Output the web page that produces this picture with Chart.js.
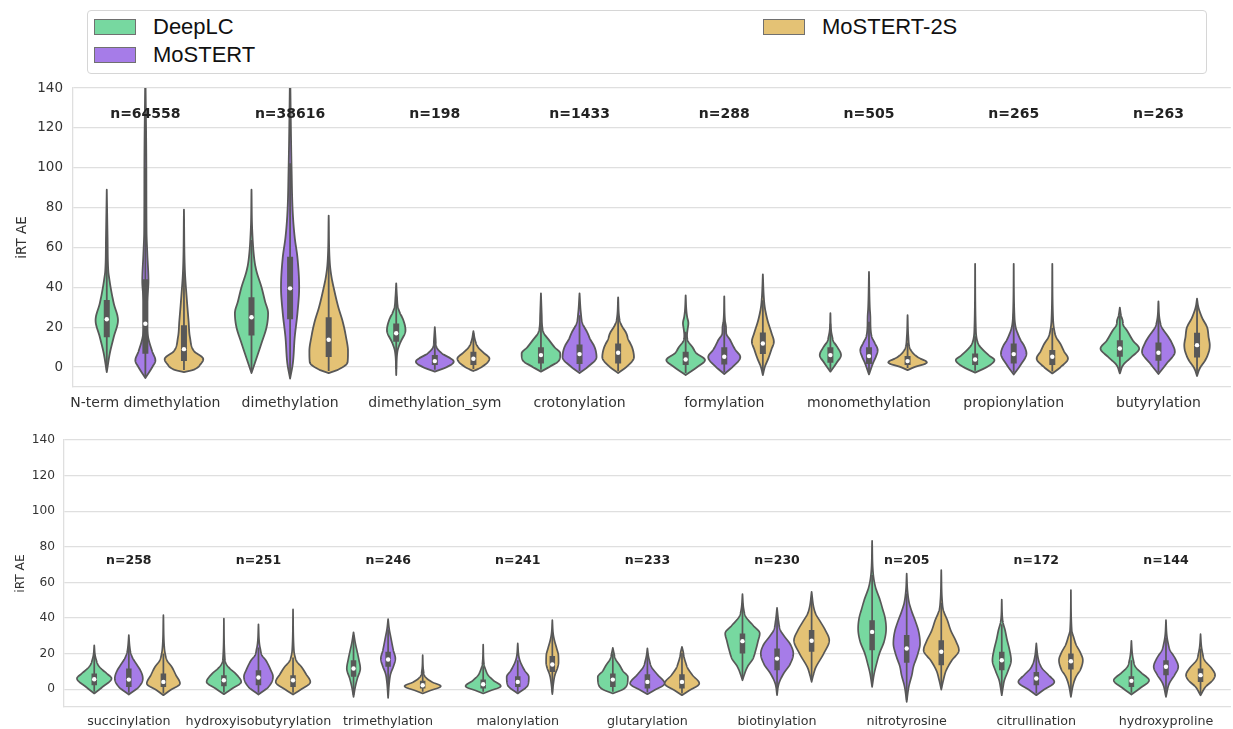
<!DOCTYPE html>
<html>
<head>
<meta charset="utf-8">
<title>iRT AE per modification</title>
<script src="https://cdn.jsdelivr.net/npm/chart.js@4.4.1/dist/chart.umd.min.js"></script>
<style>
  body { margin: 0; background: #fff; width: 1233px; height: 729px; position: relative; overflow: hidden; }
  #topChart { position: absolute; left: 0; top: 0; }
  #bottomChart { position: absolute; left: 0; top: 420px; }
  .legend { position: absolute; left: 87px; top: 10px; width: 1120px; height: 64px; box-sizing: border-box;
            border: 1px solid #d6d6d6; border-radius: 4px; background: #fff;
            font-family: "Liberation Sans", Arial, sans-serif; font-size: 22px; color: #111; }
  .legend .item { position: absolute; height: 26px; line-height: 26px; display: flex; align-items: center; }
  .legend .sw { width: 40px; height: 14px; border: 1px solid #707070; margin-right: 17px; }
</style>
</head>
<body>
<canvas id="topChart" width="1233" height="420"></canvas>
<canvas id="bottomChart" width="1233" height="309"></canvas>
<div class="legend" id="legend"></div>
<script>
'use strict';

var seriesNames = ['DeepLC', 'MoSTERT', 'MoSTERT-2S'];
var seriesColors = ['#77d8a0', '#a67ce8', '#e4c275'];

var topCategories = ['N-term dimethylation', 'dimethylation', 'dimethylation_sym', 'crotonylation',
  'formylation', 'monomethylation', 'propionylation', 'butyrylation'];
var topCounts = [64558, 38616, 198, 1433, 288, 505, 265, 263];

var bottomCategories = ['succinylation', 'hydroxyisobutyrylation', 'trimethylation', 'malonylation',
  'glutarylation', 'biotinylation', 'nitrotyrosine', 'citrullination', 'hydroxyproline'];
var bottomCounts = [258, 251, 246, 241, 233, 230, 205, 172, 144];

var yTicks = [0, 20, 40, 60, 80, 100, 120, 140];

// violin outlines: [iRT AE, relative half width], lower tip to upper tip
var deepLcTopShapes = [
  [[-2.5,0],[7,0.16],[15,0.36],[23.5,0.58],[32,0.36],[40,0.2],[45,0.12],[48,0.08],[65,0.04],[89,0]],
  [[-3,0],[3,0.21],[12,0.52],[20,0.78],[27,0.86],[33,0.7],[40,0.52],[48,0.26],[53,0.16],[68,0.04],[89,0]],
  [[-4,0],[7.7,0.06],[12,0.2],[18.5,0.48],[24,0.35],[27,0.2],[30,0.09],[35,0.04],[42,0]],
  [[-2.3,0],[0,0.42],[3.5,0.95],[6.8,1.0],[10,0.7],[13.5,0.42],[17,0.15],[20,0.07],[26,0.04],[37,0]],
  [[-4,0],[0,0.6],[3.5,1.0],[7,0.55],[10,0.35],[13,0.12],[16,0.07],[19,0.1],[22,0.14],[25,0.08],[28,0.04],[36,0]],
  [[-2.3,0],[2,0.31],[6,0.55],[10,0.36],[13,0.15],[15,0.1],[18,0.04],[27,0]],
  [[-2.8,0],[0,0.6],[3.5,1.0],[6,0.7],[8.5,0.42],[11,0.2],[13.5,0.1],[18,0.04],[51.8,0]],
  [[-3.2,0],[1,0.17],[5,0.6],[9.3,1.0],[13,0.7],[18.5,0.36],[21,0.18],[23.5,0.14],[26,0.06],[29.8,0]]
];
var deepLcTopBoxes = [[15,24,33.7],[15.8,25,35],[12.7,17,21.8],[1.8,6,10],[1,3.8,7.7],[2.2,6,10],[1,3.8,6.8],[5.2,9.3,13.5]];

var mostertTopShapes = [
  [[-5.5,0],[0,0.36],[3.3,0.52],[8,0.35],[15,0.14],[20,0.09],[32,0.09],[43,0.16],[57,0.1],[68,0.06],[100,0.05],[150,0]],
  [[-5.8,0],[1.7,0.14],[15,0.24],[27,0.38],[40,0.47],[55,0.38],[65,0.24],[77,0.14],[98,0.08],[150,0]],
  [[-2.3,0],[0,0.62],[2.7,0.98],[7,0.35],[10,0.09],[14,0.04],[20,0]],
  [[-3,0],[0,0.42],[5,0.88],[10,0.78],[14,0.55],[17,0.42],[22,0.15],[27,0.07],[37,0]],
  [[-3.5,0],[0,0.42],[5,0.83],[9,0.55],[13.5,0.31],[17,0.1],[20,0.09],[23,0.04],[35.5,0]],
  [[-3.7,0],[2,0.21],[5,0.35],[8.5,0.45],[12,0.3],[15,0.15],[20,0.08],[25,0.07],[30,0.04],[47.7,0]],
  [[-3.7,0],[1,0.35],[6.8,0.66],[11,0.52],[13.5,0.36],[17,0.2],[20,0.1],[25,0.04],[51.8,0]],
  [[-3.5,0],[1.8,0.43],[7.7,0.85],[12,0.7],[15,0.52],[20,0.17],[24,0.06],[33,0]]
];
var mostertTopBoxes = [[6.7,21.7,44],[24,39.5,55.3],[1,3,6],[1.5,6.5,11.3],[1.3,5.2,10],[1.5,5.5,10],[1.8,6.5,11.8],[3.2,7.2,12.3]];

var mostert2sTopShapes = [
  [[-2.5,0],[-1.3,0.5],[1.7,0.88],[4,1.0],[8,0.52],[15,0.31],[23,0.24],[35,0.14],[48,0.05],[79,0]],
  [[-3,0],[-1,0.55],[2.5,0.98],[8,1.0],[15,0.9],[23,0.72],[30,0.5],[38,0.3],[45,0.15],[52,0.06],[76,0]],
  [[-2,0],[0,0.43],[4.3,0.83],[7,0.55],[10,0.24],[13,0.1],[18,0]],
  [[-3,0],[0,0.42],[5,0.82],[10,0.72],[14,0.52],[17,0.42],[20.5,0.2],[23.5,0.08],[35,0]],
  [[-4,0],[0,0.1],[5,0.31],[9,0.45],[12.7,0.57],[17,0.45],[23.5,0.24],[30,0.1],[35,0.05],[46.5,0]],
  [[-1.5,0],[0,0.35],[2.3,1.0],[5,0.52],[8,0.2],[10,0.1],[15,0.04],[26,0]],
  [[-3.2,0],[0,0.43],[4.3,0.81],[8,0.6],[11.8,0.41],[15,0.2],[18.5,0.1],[24,0.04],[51.8,0]],
  [[-4.5,0],[-0.7,0.14],[3.5,0.43],[8,0.62],[11,0.66],[15,0.6],[20,0.52],[24,0.3],[27,0.17],[30,0.07],[34.3,0]]
];
var mostert2sTopBoxes = [[3,9,21],[5,13.7,25],[1,4.2,7.7],[1.8,7.2,11.8],[6.5,11.8,17.3],[1,3,5.5],[1,5.2,8.5],[4.8,11,17.2]];

var deepLcBottomShapes = [
  [[-2.4,0],[1.3,0.48],[6,1.0],[9,0.7],[11.6,0.39],[14,0.2],[16.3,0.12],[19,0.05],[24.7,0]],
  [[-2.8,0],[0.4,0.48],[4.1,1.0],[8.8,0.67],[11.5,0.35],[14.4,0.12],[18,0.05],[39.7,0]],
  [[-4.3,0],[1.3,0.1],[6,0.22],[11.6,0.39],[17,0.3],[22,0.19],[26,0.1],[32,0]],
  [[-2.4,0],[-0.9,0.39],[1.7,1.02],[5,0.58],[8,0.28],[10.7,0.15],[14,0.05],[25.1,0]],
  [[-2.4,0],[0,0.6],[2.2,0.81],[6.9,0.87],[10,0.6],[13.5,0.39],[17,0.15],[20,0.07],[23.2,0]],
  [[5,0],[8,0.1],[12.6,0.29],[17,0.6],[22,0.77],[27,0.9],[31.3,1.0],[36,0.6],[40.7,0.19],[45,0.07],[53.4,0]],
  [[1.3,0],[8.8,0.12],[14,0.25],[20,0.42],[27,0.7],[34.1,0.81],[40,0.75],[46,0.58],[50,0.46],[57.5,0.19],[65,0.06],[83.4,0]],
  [[-3.4,0],[1,0.07],[5,0.15],[10,0.35],[16.3,0.54],[22,0.45],[28,0.3],[33.2,0.19],[38,0.06],[50.4,0]],
  [[-3,0],[0.4,0.48],[5,1.02],[9,0.6],[12.6,0.23],[16,0.12],[20,0.05],[27.2,0]]
];
var deepLcBottomBoxes = [[2.2,5.6,8.8],[1.7,5,7.9],[7,11.6,16.3],[0.4,2.8,5.4],[1.3,5.4,8.8],[20,27,31.3],[21.9,32.2,38.8],[10.7,16.3,21],[1.3,4.7,7.3]];

var mostertBottomShapes = [
  [[-3,0],[1.3,0.58],[6,0.81],[10,0.7],[13.5,0.48],[17,0.25],[20,0.12],[24,0.05],[30.4,0]],
  [[-3,0],[1.3,0.58],[7,0.84],[11,0.7],[16.3,0.42],[19,0.2],[22,0.12],[26,0.05],[36.5,0]],
  [[-4.9,0],[4,0.07],[8.8,0.15],[12.6,0.3],[17.2,0.42],[22,0.3],[29.4,0.15],[34,0.06],[39.4,0]],
  [[-2.4,0],[2.2,0.58],[6.9,0.64],[10.5,0.4],[14.4,0.19],[18,0.07],[25.7,0]],
  [[-2.8,0],[-0.6,0.39],[3.2,1.0],[8,0.6],[12.6,0.23],[16,0.12],[19,0.05],[22.9,0]],
  [[-3.4,0],[3,0.1],[8.8,0.38],[14,0.75],[20,0.94],[25,0.78],[30,0.4],[33.2,0.19],[38,0.09],[45.7,0]],
  [[-7.1,0],[1.3,0.12],[8,0.3],[12.6,0.39],[20,0.65],[25.7,0.77],[32,0.7],[38.8,0.48],[44,0.28],[48.2,0.15],[55,0.05],[65,0]],
  [[-3.4,0],[-0.6,0.39],[4.1,1.04],[8,0.7],[11.5,0.35],[14.4,0.19],[18,0.09],[25.7,0]],
  [[-4.3,0],[3.2,0.19],[8,0.5],[12.6,0.71],[17,0.55],[22,0.23],[26,0.12],[30,0.05],[38.8,0]]
];
var mostertBottomBoxes = [[1.3,5.4,11.6],[2.2,6.6,10.7],[12.6,16.7,21],[1.3,4.1,7.3],[0.4,4.1,8.4],[10.7,17.2,22.9],[14.8,22.9,30.4],[2.2,6,9.7],[7.9,12.6,16.3]];

var mostert2sBottomShapes = [
  [[-3.4,0],[-0.6,0.39],[3.2,0.96],[8,0.72],[12.6,0.48],[16,0.22],[20,0.1],[24,0.05],[41.6,0]],
  [[-3,0],[-0.6,0.39],[4.1,1.0],[8.5,0.75],[12.6,0.48],[15.5,0.22],[18,0.12],[22,0.05],[44.8,0]],
  [[-2.4,0],[-0.9,0.39],[1.7,1.05],[4,0.55],[6.9,0.15],[10,0.05],[19.1,0]],
  [[-2.8,0],[3,0.06],[8,0.15],[12,0.3],[15,0.36],[19.1,0.35],[23,0.25],[27.5,0.12],[31,0.05],[38.8,0]],
  [[-3.4,0],[-0.9,0.39],[3.2,1.0],[8,0.6],[12,0.32],[14.4,0.23],[18,0.12],[21,0.07],[23.8,0]],
  [[4.1,0],[8,0.1],[12,0.23],[20,0.7],[27.5,1.02],[33,0.8],[38,0.5],[42,0.25],[46,0.12],[54.7,0]],
  [[-0.2,0],[5,0.12],[10.7,0.29],[16,0.6],[21.9,1.02],[27,0.85],[33,0.55],[38.8,0.35],[44.4,0.12],[50,0.05],[66.9,0]],
  [[-4.3,0],[2,0.12],[6.9,0.29],[11,0.55],[16.3,0.69],[20.5,0.55],[25,0.3],[29.4,0.15],[33,0.05],[55.7,0]],
  [[-3.4,0],[1.3,0.29],[5,0.7],[7.9,0.84],[11.6,0.65],[16.3,0.23],[20,0.12],[24,0.05],[30.9,0]]
];
var mostert2sBottomBoxes = [[1.3,4.1,8.8],[1.3,5,7.9],[0.4,2.2,4.7],[9.7,13.9,18.6],[0.4,4.1,8.4],[21,27.2,33.2],[13.5,21,27.5],[11,15.7,20],[4.1,7.9,11.6]];

var GRAY = '#585858';
var GRID = '#dfdfdf';
var FONT = "'DejaVu Sans', sans-serif";
var hueStep = 0.8 / 3;

// monotone cubic (Fritsch-Carlson) through the outline knots, so the outline never overshoots
function monotone(xs, ys) {
  var n = xs.length, d = [], m = [], i;
  for (i = 0; i < n - 1; i++) d[i] = (ys[i + 1] - ys[i]) / (xs[i + 1] - xs[i]);
  m[0] = d[0]; m[n - 1] = d[n - 2];
  for (i = 1; i < n - 1; i++) m[i] = d[i - 1] * d[i] <= 0 ? 0 : (d[i - 1] + d[i]) / 2;
  for (i = 0; i < n - 1; i++) {
    if (d[i] === 0) { m[i] = 0; m[i + 1] = 0; continue; }
    var a = m[i] / d[i], b = m[i + 1] / d[i], s = a * a + b * b;
    if (s > 9) { var t = 3 / Math.sqrt(s); m[i] = t * a * d[i]; m[i + 1] = t * b * d[i]; }
  }
  return function(x) {
    if (x <= xs[0]) return ys[0];
    if (x >= xs[n - 1]) return ys[n - 1];
    var k = 0;
    while (x > xs[k + 1]) k++;
    var h = xs[k + 1] - xs[k], u = (x - xs[k]) / h;
    var h00 = 2*u*u*u - 3*u*u + 1, h10 = u*u*u - 2*u*u + u, h01 = -2*u*u*u + 3*u*u, h11 = u*u*u - u*u;
    return Math.max(0, h00 * ys[k] + h10 * h * m[k] + h01 * ys[k + 1] + h11 * h * m[k + 1]);
  };
}

var violinPlugin = {
  id: 'violins',
  beforeDatasetsDraw: function(chart, args, opts) {
    var ctx = chart.ctx, xs = chart.scales.x, ys = chart.scales.y, area = chart.chartArea;
    var half = Math.abs(xs.getPixelForValue(hueStep) - xs.getPixelForValue(0)) / 2;
    ctx.save();
    ctx.beginPath();
    ctx.rect(area.left, area.top, area.right - area.left, area.bottom - area.top);
    ctx.clip();
    ctx.lineJoin = 'round';
    chart.data.datasets.forEach(function(ds) {
      ds.violins.forEach(function(v, i) {
        var cx = xs.getPixelForValue(ds.data[i].x);
        var shape = v.shape;
        var f = monotone(shape.map(function(p) { return p[0]; }), shape.map(function(p) { return p[1]; }));
        var yLo = ys.getPixelForValue(shape[0][0]);
        var yHi = ys.getPixelForValue(shape[shape.length - 1][0]);
        var pts = [], y, k;
        for (y = yLo; y > yHi; y -= 0.5) pts.push([y, f(ys.getValueForPixel(y)) * half]);
        pts.push([yHi, 0]);
        ctx.beginPath();
        pts.forEach(function(p, j) { if (j) ctx.lineTo(cx + p[1], p[0]); else ctx.moveTo(cx + p[1], p[0]); });
        for (k = pts.length - 1; k >= 0; k--) ctx.lineTo(cx - pts[k][1], pts[k][0]);
        ctx.closePath();
        ctx.fillStyle = ds.fillColor;
        ctx.fill();
        ctx.lineWidth = opts.outline;
        ctx.strokeStyle = GRAY;
        ctx.stroke();

        // inner box: whiskers at 1.5 IQR (limited to the violin), thick q1-q3 bar
        var q1 = v.box[0], q3 = v.box[2], iqr = q3 - q1;
        var wLo = Math.max(q1 - 1.5 * iqr, shape[0][0] + 1);
        var wHi = Math.min(q3 + 1.5 * iqr, shape[shape.length - 1][0] - 1);
        ctx.lineCap = 'butt';
        ctx.lineWidth = opts.outline;
        ctx.beginPath();
        ctx.moveTo(cx, ys.getPixelForValue(wLo));
        ctx.lineTo(cx, ys.getPixelForValue(wHi));
        ctx.stroke();
        ctx.lineWidth = opts.box;
        ctx.beginPath();
        ctx.moveTo(cx, ys.getPixelForValue(q1));
        ctx.lineTo(cx, ys.getPixelForValue(q3));
        ctx.stroke();
      });
    });
    ctx.restore();
  },
  afterDatasetsDraw: function(chart, args, opts) {
    var ctx = chart.ctx, xs = chart.scales.x, ys = chart.scales.y;
    ctx.save();
    ctx.font = 'bold ' + opts.countSize + 'px ' + FONT;
    ctx.fillStyle = '#222';
    ctx.textAlign = 'center';
    ctx.textBaseline = 'middle';
    opts.counts.forEach(function(n, i) {
      ctx.fillText('n=' + n, xs.getPixelForValue(i), ys.getPixelForValue(opts.countY));
    });
    ctx.restore();
  }
};

function buildDatasets(shapes, boxes) {
  return seriesNames.map(function(name, h) {
    return {
      label: name,
      fillColor: seriesColors[h],
      violins: shapes[h].map(function(s, i) { return { shape: s, box: boxes[h][i] }; }),
      data: boxes[h].map(function(b, i) { return { x: i + (h - 1) * hueStep, y: b[1] }; }),
      pointRadius: 2.2,
      pointHoverRadius: 2.2,
      pointBackgroundColor: '#ffffff',
      pointBorderWidth: 0,
      showLine: false
    };
  });
}

function makeChart(id, cats, counts, shapes, boxes, s) {
  var ctx = document.getElementById(id).getContext('2d');
  return new Chart(ctx, {
    type: 'scatter',
    data: { datasets: buildDatasets(shapes, boxes) },
    options: {
      responsive: false,
      animation: false,
      events: [],
      layout: { padding: { top: s.top, right: 0, left: 0, bottom: 0 } },
      plugins: {
        legend: { display: false },
        tooltip: { enabled: false },
        violins: { counts: counts, countY: s.countY, countSize: s.countSize, outline: s.outline, box: s.box }
      },
      scales: {
        x: {
          type: 'linear',
          min: -0.5,
          max: cats.length - 0.5,
          afterBuildTicks: function(axis) { axis.ticks = cats.map(function(c, i) { return { value: i }; }); },
          afterFit: function(axis) { axis.height = s.xHeight; },
          grid: { display: false, drawTicks: false },
          border: { display: true, color: GRID, width: 1.3 },
          ticks: {
            autoSkip: false, maxRotation: 0, padding: s.xPad,
            color: '#333', font: { family: FONT, size: s.xFont },
            callback: function(value) { return cats[value]; }
          }
        },
        y: {
          min: -10,
          max: 140,
          afterBuildTicks: function(axis) { axis.ticks = yTicks.map(function(t) { return { value: t }; }); },
          afterFit: function(axis) { axis.width = s.yWidth; },
          grid: { color: GRID, lineWidth: 1.3, drawTicks: false },
          border: { display: true, color: GRID, width: 1.3 },
          ticks: { padding: s.yPad, color: '#333', font: { family: FONT, size: s.yFont } },
          title: { display: true, text: 'iRT AE', color: '#333', font: { family: FONT, size: s.yFont }, padding: { top: 14, bottom: 0 } }
        }
      }
    },
    plugins: [violinPlugin]
  });
}

makeChart('topChart', topCategories, topCounts,
  [deepLcTopShapes, mostertTopShapes, mostert2sTopShapes],
  [deepLcTopBoxes, mostertTopBoxes, mostert2sTopBoxes],
  { top: 88, xHeight: 33, yWidth: 73, xPad: 8, yPad: 10, xFont: 14, yFont: 13.5, countY: 127, countSize: 14, outline: 1.8, box: 6 });

makeChart('bottomChart', bottomCategories, bottomCounts,
  [deepLcBottomShapes, mostertBottomShapes, mostert2sBottomShapes],
  [deepLcBottomBoxes, mostertBottomBoxes, mostert2sBottomBoxes],
  { top: 20, xHeight: 22, yWidth: 64, xPad: 7, yPad: 9, xFont: 12.7, yFont: 12.2, countY: 72.3, countSize: 12.5, outline: 1.7, box: 5.5 });

// legend: two rows in the first column, MoSTERT-2S alone in the second
var legendPos = [[6, 3], [6, 31], [675, 3]];
var legend = document.getElementById('legend');
seriesNames.forEach(function(name, h) {
  var item = document.createElement('div');
  item.className = 'item';
  item.style.left = legendPos[h][0] + 'px';
  item.style.top = legendPos[h][1] + 'px';
  item.innerHTML = '<span class="sw" style="background:' + seriesColors[h] + '"></span><span>' + name + '</span>';
  legend.appendChild(item);
});
</script>
</body>
</html>
